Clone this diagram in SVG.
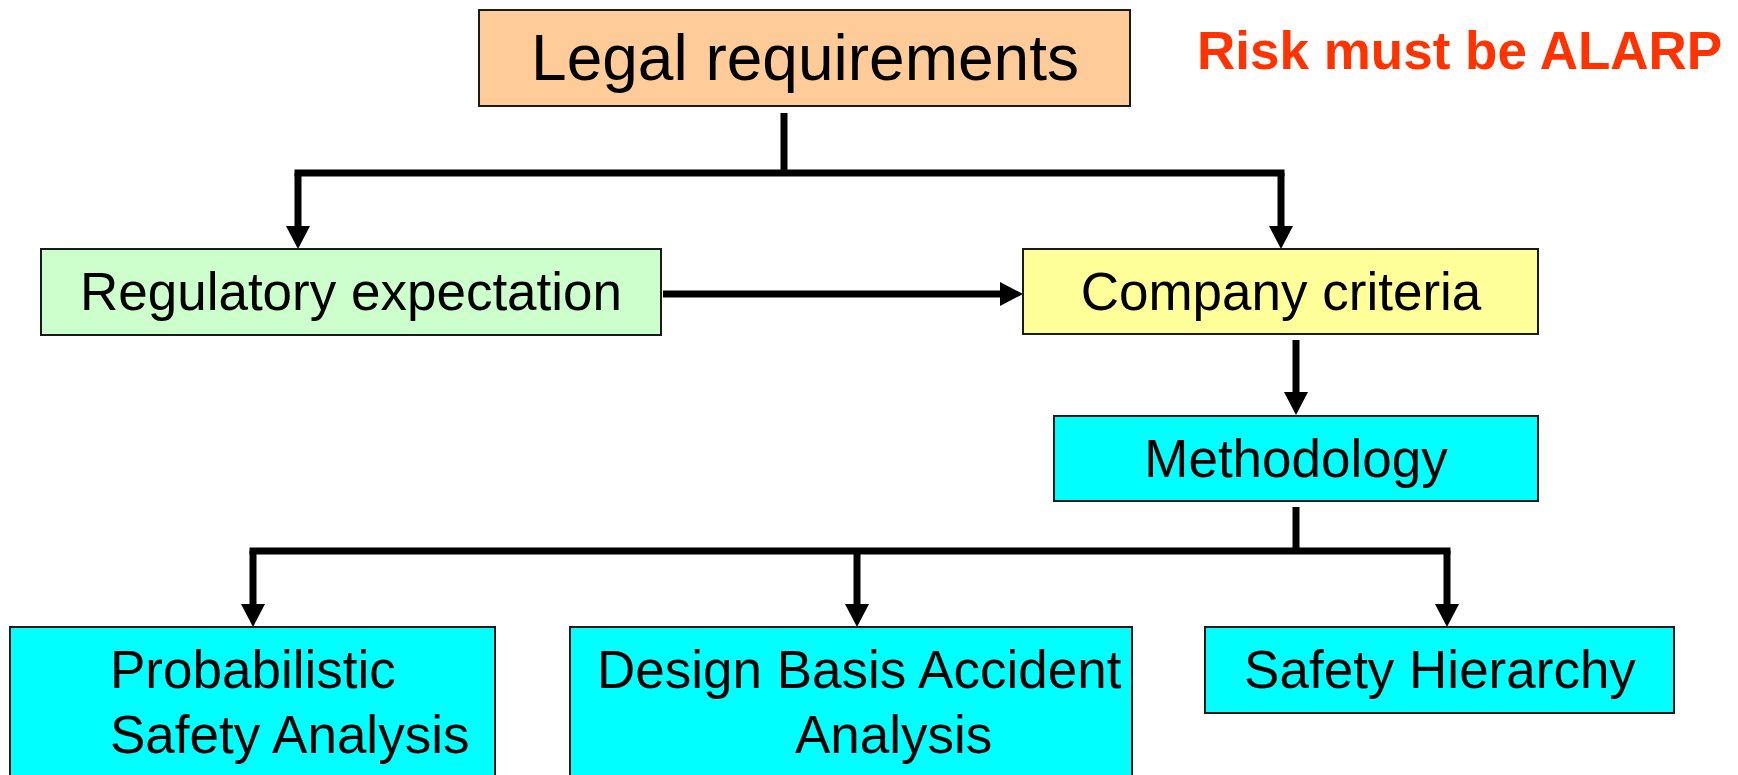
<svg xmlns="http://www.w3.org/2000/svg" width="1738" height="775" viewBox="0 0 1738 775">
  <style>
    .box { stroke: #1a1a1a; stroke-width: 2; }
    .label { font-family: "Liberation Sans", Arial, sans-serif; font-size: 53px; fill: #000; }
    .wire { fill: none; stroke: #000; stroke-width: 7; stroke-linecap: butt; }
    .bus { fill: none; stroke: #000; stroke-width: 7; stroke-linecap: square; }
    .note { font-family: "Liberation Sans", Arial, sans-serif; font-size: 53px; font-weight: bold; fill: #FF3300; }
  </style>
  <defs>
    <marker id="head" viewBox="0 0 23 24" refX="1" refY="12" markerWidth="23" markerHeight="24" markerUnits="userSpaceOnUse" orient="auto">
      <path d="M0,0 L23,12 L0,24 z" fill="#000"/>
    </marker>
  </defs>

  <rect width="1738" height="775" fill="#fff"/>

  <!-- connectors -->
  <g id="connectors">
    <path class="wire" d="M784,113 V173"/>
    <path class="bus" d="M298,173 H1281"/>
    <path class="wire" d="M298,173 V227" marker-end="url(#head)"/>
    <path class="wire" d="M1281,173 V227" marker-end="url(#head)"/>
    <path class="wire" d="M663,294 H1001" marker-end="url(#head)"/>
    <path class="wire" d="M1296,340 V393" marker-end="url(#head)"/>
    <path class="wire" d="M1296,507 V551"/>
    <path class="bus" d="M253,551 H1447"/>
    <path class="wire" d="M253,551 V605" marker-end="url(#head)"/>
    <path class="wire" d="M857,551 V605" marker-end="url(#head)"/>
    <path class="wire" d="M1447,551 V605" marker-end="url(#head)"/>
  </g>

  <!-- nodes -->
  <g id="legal">
    <rect class="box" x="479" y="10" width="651" height="96" fill="#FFCC99"/>
    <text class="label" x="805" y="80" text-anchor="middle" style="font-size:64px">Legal requirements</text>
  </g>

  <g id="regulatory">
    <rect class="box" x="41" y="249" width="620" height="86" fill="#CCFFCC"/>
    <text class="label" x="351" y="310" text-anchor="middle">Regulatory expectation</text>
  </g>

  <g id="company">
    <rect class="box" x="1023" y="249" width="515" height="85" fill="#FFFF99"/>
    <text class="label" x="1281" y="310" text-anchor="middle">Company criteria</text>
  </g>

  <g id="methodology">
    <rect class="box" x="1054" y="416" width="484" height="85" fill="#00FFFF"/>
    <text class="label" x="1296" y="477" text-anchor="middle">Methodology</text>
  </g>

  <g id="psa">
    <rect class="box" x="10" y="627" width="485" height="160" fill="#00FFFF"/>
    <text class="label" x="110" y="688">Probabilistic</text>
    <text class="label" x="110" y="753">Safety Analysis</text>
  </g>

  <g id="dba">
    <rect class="box" x="570" y="627" width="562" height="160" fill="#00FFFF"/>
    <text class="label" x="597" y="688">Design Basis Accident</text>
    <text class="label" x="795" y="753">Analysis</text>
  </g>

  <g id="hierarchy">
    <rect class="box" x="1205" y="627" width="469" height="86" fill="#00FFFF"/>
    <text class="label" x="1440" y="688" text-anchor="middle">Safety Hierarchy</text>
  </g>

  <g id="alarp">
    <text class="note" x="1197" y="69">Risk must be ALARP</text>
  </g>
</svg>
